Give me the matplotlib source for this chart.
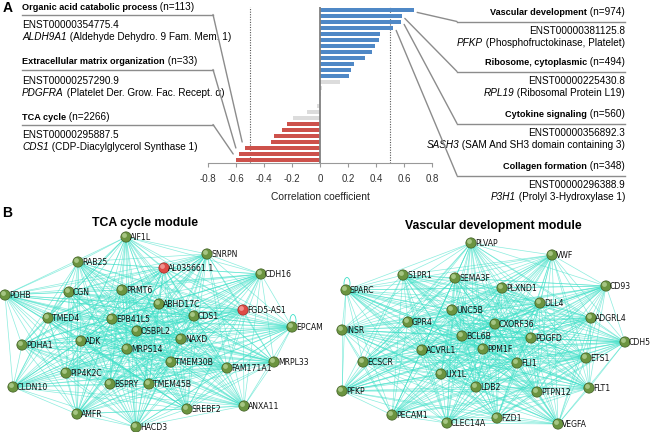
import numpy as np
import matplotlib.pyplot as plt
from matplotlib.collections import LineCollection
from matplotlib.patches import ConnectionPatch, Ellipse

plt.rcParams['axes.unicode_minus'] = False
plt.rcParams['font.family'] = ['Liberation Sans', 'DejaVu Sans']

# ---- panel A data: correlation per row (top to bottom) ----
corr = [0.674, 0.586, 0.581, 0.524, 0.426, 0.421, 0.393, 0.374, 0.321, 0.245,
        0.221, 0.205, 0.143, 0.012, 0.010, 0.0, -0.024, -0.095, -0.19, -0.238,
        -0.269, -0.329, -0.348, -0.536, -0.581, -0.600]
xticks = [-0.8, -0.6, -0.4, -0.2, 0, 0.2, 0.4, 0.6, 0.8]

# left side annotations (negative correlation)
left_terms = ['Organic acid catabolic process', 'Extracellular matrix organization', 'TCA cycle']
left_n = [113, 33, 2266]
left_ids = ['ENST00000354775.4', 'ENST00000257290.9', 'ENST00000295887.5']
left_genes = ['ALDH9A1', 'PDGFRA', 'CDS1']
left_desc = ['(Aldehyde Dehydro. 9 Fam. Mem. 1)', '(Platelet Der. Grow. Fac. Recept. \u03b1)',
             '(CDP-Diacylglycerol Synthase 1)']
left_rows = [23, 24, 25]

# right side annotations (positive correlation)
right_terms = ['Vascular development', 'Ribosome, cytoplasmic', 'Cytokine signaling', 'Collagen formation']
right_n = [974, 494, 560, 348]
right_ids = ['ENST00000381125.8', 'ENST00000225430.8', 'ENST00000356892.3', 'ENST00000296388.9']
right_genes = ['PFKP', 'RPL19', 'SASH3', 'P3H1']
right_desc = ['(Phosphofructokinase, Platelet)', '(Ribosomal Protein L19)',
              '(SAM And SH3 domain containing 3)', '(Prolyl 3-Hydroxylase 1)']
right_rows = [0, 1, 2, 3]

# ---- panel B data: network layouts (pixels) ----
tca_names = ['AIF1L', 'SNRPN', 'RAB25', 'AL035661.1', 'CDH16', 'PDHB', 'CGN', 'PRMT6',
             'ABHD17C', 'FGD5-AS1', 'TMED4', 'EPB41L5', 'CDS1', 'EPCAM', 'OSBPL2', 'PDHA1',
             'ADK', 'NAXD', 'MRPS14', 'TMEM30B', 'MRPL33', 'FAM171A1', 'PIP4K2C', 'CLDN10',
             'BSPRY', 'TMEM45B', 'ANXA11', 'SREBF2', 'AMFR', 'HACD3']
tca_x = [126, 207, 78, 164, 261, 5, 69, 122, 159, 243, 48, 112, 194, 292, 137, 22,
         81, 181, 127, 171, 274, 227, 66, 13, 110, 149, 244, 187, 77, 136]
tca_y = [237, 254, 262, 268, 274, 295, 292, 290, 304, 310, 318, 319, 316, 327, 331, 345,
         341, 339, 349, 362, 362, 368, 373, 387, 384, 384, 406, 409, 414, 427]
tca_lnc = ['AL035661.1', 'FGD5-AS1']
tca_loop = 'EPCAM'

vas_names = ['PLVAP', 'VWF', 'S1PR1', 'SEMA3F', 'SPARC', 'PLXND1', 'CD93', 'DLL4', 'UNC5B',
             'ADGRL4', 'GPR4', 'CXORF36', 'INSR', 'BCL6B', 'PDGFD', 'CDH5', 'ACVRL1', 'PPM1F',
             'ETS1', 'ECSCR', 'FLI1', 'LIX1L', 'LDB2', 'PTPN12', 'FLT1', 'PFKP', 'PECAM1',
             'FZD1', 'CLEC14A', 'VEGFA']
vas_x = [471, 552, 403, 455, 346, 502, 606, 540, 452, 591, 408, 495, 342, 462, 531, 625,
         422, 483, 586, 363, 517, 441, 476, 537, 589, 342, 392, 497, 447, 558]
vas_y = [243, 255, 275, 278, 290, 288, 286, 303, 310, 318, 322, 324, 330, 336, 338, 342,
         350, 349, 358, 362, 363, 374, 387, 392, 388, 391, 415, 418, 423, 424]
vas_loop = 'SPARC'

BLUE = '#4f88c6'
RED = '#cd514b'
GREY = '#dcdcdc'
EDGE = '#3ee0c8'

fig = plt.figure(figsize=(6.5, 4.32), dpi=100)
over = fig.add_axes([0, 0, 1, 1])
over.set_xlim(0, 650)
over.set_ylim(432, 0)
over.axis('off')

# ---- bar chart ----
ax = fig.add_axes([208 / 650, (432 - 163) / 432, 224 / 650, 156 / 432])
rows = np.arange(len(corr))
cols = [BLUE if v >= 0.2 else RED if v <= -0.2 else GREY for v in corr]
ax.barh(rows, corr, height=0.75, color=cols, zorder=2)
ax.axvline(0, color='#808080', lw=1.3, zorder=3)
for v in (-0.5, 0.5):
    ax.axvline(v, color='#555555', lw=0.8, ls=(0, (1, 1.3)), zorder=1)
ax.set_xlim(-0.8, 0.8)
ax.set_ylim(len(corr) - 0.5, -0.5)
ax.set_xticks(xticks)
ax.set_xticklabels([f'{t:g}' for t in xticks])
ax.set_yticks([])
for s in ('top', 'left', 'right'):
    ax.spines[s].set_visible(False)
ax.spines['bottom'].set_color('#999999')
ax.tick_params(axis='x', length=3, color='#999999', labelsize=7, labelcolor='#333333', pad=5)
ax.set_xlabel('Correlation coefficient', fontsize=7.4, labelpad=6, color='#222222')
ax.patch.set_alpha(0)

FS = 7.2
BFS = 6.6
LINE = '#8c8c8c'


def chain(x, y, parts, ha='left'):
    # parts: list of (text, kwargs); lay them out on one line
    parts = [(txt, {'fontsize': FS, **kw}) for txt, kw in parts]
    if ha == 'left':
        t = over.text(x, y, parts[0][0], ha='left', va='center', **parts[0][1])
        for txt, kw in parts[1:]:
            t = over.annotate(txt, xy=(1, 0), xycoords=t, ha='left', va='bottom', **kw)
    else:
        t = over.text(x, y, parts[-1][0], ha='right', va='center', **parts[-1][1])
        for txt, kw in parts[-2::-1]:
            t = over.annotate(txt, xy=(0, 0), xycoords=t, ha='right', va='bottom', **kw)


left_top = [7, 62, 117]
for i in range(3):
    y0 = left_top[i]
    chain(22, y0, [(left_terms[i], dict(fontweight='bold', fontsize=BFS)), (f' (n={left_n[i]})', {})])
    over.plot([22, 213], [y0 + 7.5, y0 + 7.5], color=LINE, lw=1)
    over.text(22, y0 + 18.5, left_ids[i], ha='left', va='center', fontsize=FS)
    chain(22, y0 + 30.5, [(left_genes[i], dict(style='italic')), (' ' + left_desc[i], {})])
    r = left_rows[i]
    con = ConnectionPatch(xyA=(213, y0 + 7.5), coordsA=over.transData,
                          xyB=(corr[r] - 0.02, r - 1.0), coordsB=ax.transData,
                          color=LINE, lw=1)
    fig.add_artist(con)

right_top = [12, 62, 114, 166]
for i in range(4):
    y0 = right_top[i]
    chain(625, y0, [(right_terms[i], dict(fontweight='bold', fontsize=BFS)), (f' (n={right_n[i]})', {})],
          ha='right')
    over.plot([457, 625], [y0 + 9.5, y0 + 9.5], color=LINE, lw=1)
    over.text(625, y0 + 19.5, right_ids[i], ha='right', va='center', fontsize=FS)
    chain(625, y0 + 31.5, [(right_genes[i], dict(style='italic')), (' ' + right_desc[i], {})], ha='right')
    r = right_rows[i]
    con = ConnectionPatch(xyA=(457, y0 + 9.5), coordsA=over.transData,
                          xyB=(corr[r] + 0.02, r + 0.4), coordsB=ax.transData,
                          color=LINE, lw=1)
    fig.add_artist(con)

over.text(3, 8, 'A', fontsize=10, fontweight='bold', ha='left', va='center')
over.text(2, 213, 'B', fontsize=10, fontweight='bold', ha='left', va='center')


# ---- networks ----
def network(names, xs, ys, lnc, loop, title, tx, ty):
    pts = np.column_stack([xs, ys])
    segs = [[pts[i], pts[j]] for i in range(len(pts)) for j in range(i + 1, len(pts))]
    over.add_collection(LineCollection(segs, colors=EDGE, linewidths=0.5, alpha=0.6, zorder=1))
    # small self-loop drawn just above its node
    k = names.index(loop)
    over.add_patch(Ellipse((xs[k] + 1, ys[k] - 6.5), 6, 12, fill=False, ec=EDGE, lw=0.6, zorder=2))
    fc = ['#de4b46' if n in lnc else '#6b9440' for n in names]
    ec = ['#9c2a26' if n in lnc else '#3e5d22' for n in names]
    over.scatter(xs, ys, s=55, c=fc, edgecolors=ec, linewidths=0.5, zorder=3)
    hc = ['#f4a6a2' if n in lnc else '#b5d295' for n in names]
    over.scatter(np.array(xs) - 1.5, np.array(ys) - 1.5, s=12, c=hc, alpha=0.8, linewidths=0, zorder=4)
    for n, x, y in zip(names, xs, ys):
        over.text(x + 4, y + 0.5, n, fontsize=5.6, ha='left', va='center', color='#111111',
                  family='DejaVu Sans', zorder=5)
    over.text(tx, ty, title, fontsize=8.8, fontweight='bold', ha='center', va='center')


network(tca_names, tca_x, tca_y, tca_lnc, tca_loop, 'TCA cycle module', 145, 223)
network(vas_names, vas_x, vas_y, [], vas_loop, 'Vascular development module', 493, 226)

fig.savefig('out.png', dpi=100)
